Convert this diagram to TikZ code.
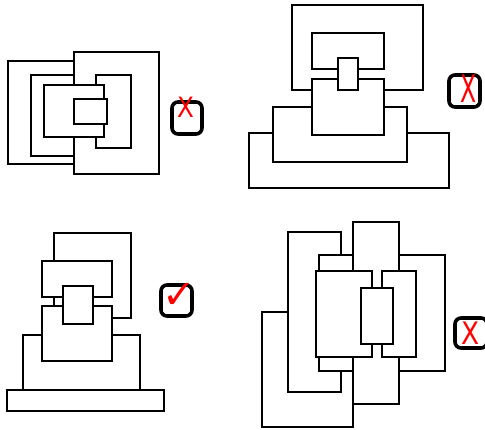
\documentclass[tikz,border=0pt]{standalone}
\usepackage{fontspec}
\newfontfamily\markfont{DejaVu Sans}
\tikzset{
  plate/.style={draw=black,fill=white,line width=1.5pt},
  tickbox/.style={draw=black,line width=3.6pt,rounded corners=6pt,inner sep=0pt},
  redmark/.style={text=red,inner sep=0pt,font=\markfont}
}
\begin{document}
\begin{tikzpicture}[x=1pt,y=-1pt,line join=miter]
  \useasboundingbox (0,0) rectangle (485,430);
  % top left
  \foreach \xa/\ya/\xb/\yb in {8/61/120/164, 31/75/120/156, 74/52/159/174, 96/75/131/148, 44/85/104/137, 74/99/107/124}
    {\draw[plate] (\xa,\ya) rectangle (\xb,\yb);}
  % top right
  \foreach \xa/\ya/\xb/\yb in {249/133/449/188, 273/107/407/162, 292/5/423/90, 312/33/384/69, 312/79/384/135, 338/58/358/90}
    {\draw[plate] (\xa,\ya) rectangle (\xb,\yb);}
  % bottom left
  \foreach \xa/\ya/\xb/\yb in {23/335/140/390, 7/390/164/411, 54/233/131/318, 42/261/112/297, 42/306/112/361, 63/286/93/324}
    {\draw[plate] (\xa,\ya) rectangle (\xb,\yb);}
  % bottom right
  \foreach \xa/\ya/\xb/\yb in {262/312/353/427, 288/232/341/392, 319/255/445/371, 353/222/399/404, 316/271/372/357, 382/271/416/357, 361/288/393/344}
    {\draw[plate] (\xa,\ya) rectangle (\xb,\yb);}
  % check boxes
  \node[tickbox,minimum width=30pt,minimum height=32pt] (boxa) at (187,118) {};
  \node[tickbox,minimum width=31pt,minimum height=32pt] (boxb) at (464.5,91) {};
  \node[tickbox,minimum width=31pt,minimum height=31pt] (boxc) at (176.5,300.5) {};
  \node[tickbox,minimum width=32pt,minimum height=30pt] (boxd) at (471,333) {};
  \node[redmark,font=\markfont\fontsize{28}{28}\selectfont,xscale=0.88] (marka) at (185.5,107) {X};
  \node[redmark,font=\markfont\fontsize{38}{38}\selectfont,xscale=0.62] (markb) at (469,89) {X};
  \node[redmark,font=\markfont\fontsize{40}{40}\selectfont] (markc) at (179,296) {✓};
  \node[redmark,font=\markfont\fontsize{31}{31}\selectfont,xscale=0.85] (markd) at (471,333.5) {X};
\end{tikzpicture}
\end{document}
